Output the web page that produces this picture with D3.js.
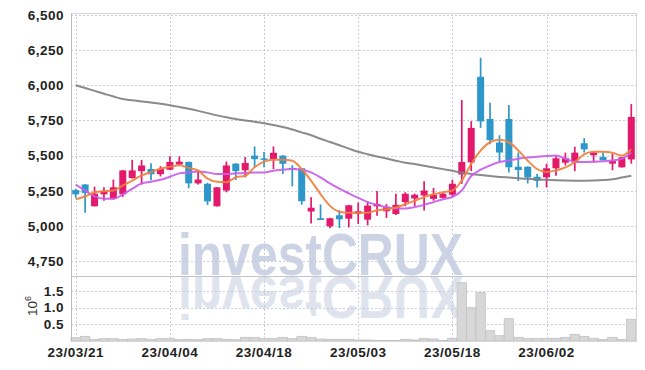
<!DOCTYPE html>
<html>
<head>
<meta charset="utf-8">
<script src="https://cdn.jsdelivr.net/npm/d3@7"></script>
<style>
    body { margin: 0; background: #fff; }
    svg { display: block; }
</style>
</head>
<body>
<svg></svg>
<script>
// trading sessions, one candle each
const dates = [
    '23/03/21', '23/03/22', '23/03/23', '23/03/24', '23/03/27', '23/03/28', '23/03/29', '23/03/30', '23/03/31',
    '23/04/03', '23/04/04', '23/04/05', '23/04/06', '23/04/07', '23/04/10', '23/04/11', '23/04/12', '23/04/13',
    '23/04/14', '23/04/17', '23/04/18', '23/04/19', '23/04/20', '23/04/21', '23/04/24', '23/04/25', '23/04/26',
    '23/04/27', '23/04/28', '23/05/02', '23/05/03', '23/05/04', '23/05/08', '23/05/09', '23/05/10', '23/05/11',
    '23/05/12', '23/05/15', '23/05/16', '23/05/17', '23/05/18', '23/05/19', '23/05/22', '23/05/23', '23/05/24',
    '23/05/25', '23/05/26', '23/05/30', '23/05/31', '23/06/01', '23/06/02', '23/06/05', '23/06/07', '23/06/08',
    '23/06/09', '23/06/12', '23/06/13', '23/06/14', '23/06/15', '23/06/16'
];

const opens = [5255, 5295, 5140, 5225, 5195, 5225, 5340, 5390, 5405, 5368, 5400, 5437, 5455, 5303, 5300,
    5140, 5252, 5443, 5396, 5500, 5480, 5475, 5500, 5413, 5410, 5103, 5055, 4998, 5076, 5052,
    5087, 5045, 5140, 5105, 5085, 5170, 5195, 5217, 5193, 5200, 5222, 5366, 5452, 6060, 5760,
    5593, 5760, 5421, 5421, 5350, 5346, 5410, 5450, 5452, 5588, 5503, 5490, 5443, 5417, 5473];
const highs = [5265, 5298, 5280, 5275, 5330, 5398, 5470, 5470, 5445, 5425, 5495, 5495, 5458, 5390, 5307,
    5278, 5458, 5446, 5490, 5565, 5525, 5565, 5502, 5432, 5412, 5205, 5153, 5058, 5112, 5150,
    5167, 5175, 5248, 5155, 5229, 5240, 5230, 5318, 5270, 5235, 5328, 5895, 5745, 6195, 5875,
    5645, 5860, 5522, 5424, 5371, 5443, 5500, 5521, 5563, 5624, 5524, 5522, 5515, 5490, 5866];
const lows = [5200, 5095, 5140, 5180, 5188, 5207, 5338, 5295, 5325, 5352, 5398, 5430, 5268, 5295, 5150,
    5138, 5240, 5327, 5346, 5417, 5418, 5405, 5370, 5282, 5152, 5018, 5042, 4985, 4986, 4990,
    5015, 5005, 5073, 5058, 5078, 5140, 5140, 5110, 5180, 5195, 5205, 5300, 5390, 5697, 5580,
    5460, 5380, 5320, 5302, 5274, 5274, 5357, 5431, 5390, 5522, 5451, 5465, 5396, 5415, 5443];
const closes = [5225, 5235, 5230, 5250, 5275, 5395, 5395, 5430, 5368, 5405, 5455, 5457, 5303, 5330, 5175,
    5275, 5430, 5390, 5448, 5475, 5475, 5520, 5442, 5402, 5176, 5130, 5043, 5055, 5048, 5147,
    5105, 5145, 5157, 5133, 5150, 5229, 5222, 5252, 5222, 5229, 5300, 5455, 5697, 5743, 5610,
    5522, 5417, 5398, 5345, 5321, 5410, 5481, 5481, 5521, 5545, 5522, 5467, 5461, 5488, 5775];

const volumes = [100000, 140000, 50000, 70000, 70000, 50000, 60000, 70000, 50000, 70000, 70000, 40000,
    50000, 40000, 70000, 70000, 50000, 40000, 110000, 110000, 70000, 70000, 110000, 70000, 140000,
    110000, 60000, 50000, 50000, 50000, 30000, 30000, 20000, 20000, 20000, 50000, 30000, 80000,
    60000, 20000, 80000, 1750000, 1000000, 1450000, 310000, 160000, 670000, 110000, 80000, 80000,
    80000, 80000, 110000, 200000, 140000, 80000, 50000, 110000, 50000, 650000];

// moving averages as drawn (they start before the first visible session)
const ma5 = [5190, 5210, 5240, 5247, 5252, 5288, 5323, 5360, 5383, 5407, 5420, 5431, 5412, 5395, 5336,
    5314, 5311, 5346, 5357, 5417, 5457, 5471, 5471, 5464, 5405, 5321, 5227, 5143, 5102, 5095,
    5095, 5095, 5112, 5119, 5131, 5155, 5180, 5205, 5225, 5240, 5252, 5323, 5441, 5536, 5595,
    5612, 5595, 5536, 5464, 5405, 5383, 5395, 5417, 5453, 5510, 5528, 5527, 5520, 5500, 5545];
const ma20 = [5295, 5252, 5210, 5193, 5193, 5224, 5264, 5303, 5314, 5328, 5350, 5374, 5381, 5388, 5381,
    5369, 5369, 5374, 5376, 5381, 5381, 5393, 5400, 5405, 5400, 5381, 5345, 5303, 5265, 5232,
    5200, 5170, 5150, 5135, 5125, 5125, 5135, 5150, 5170, 5190, 5207, 5252, 5355, 5400, 5430,
    5455, 5466, 5478, 5486, 5492, 5497, 5500, 5478, 5457, 5455, 5457, 5460, 5465, 5477, 5522];
const ma60 = [6000, 5980, 5960, 5940, 5920, 5902, 5893, 5885, 5877, 5868, 5858, 5846, 5833, 5818, 5802,
    5786, 5772, 5760, 5750, 5740, 5730, 5718, 5703, 5685, 5665, 5645, 5620, 5597, 5574, 5550,
    5527, 5510, 5494, 5479, 5464, 5450, 5440, 5428, 5416, 5404, 5392, 5380, 5370, 5362, 5355,
    5349, 5344, 5339, 5335, 5331, 5328, 5325, 5323, 5322, 5322, 5323, 5326, 5332, 5345, 5357];

const tickDates = ['23/03/21', '23/04/04', '23/04/18', '23/05/03', '23/05/18', '23/06/02'];
const priceTicks = [4750, 5000, 5250, 5500, 5750, 6000, 6250, 6500];
const volumeTicks = [500000, 1000000, 1500000];

const upColor = '#e3196b';
const downColor = '#2e97c9';
const labelFont = '"Liberation Sans Narrow", "Liberation Sans", sans-serif';

const chartWidth = 645;
const chartHeight = 370;
const plotLeft = 71;
const plotRight = 636;
const plotTop = 13;
const paneSplit = 276;
const plotBottom = 341;

const svg = d3.select('svg')
    .attr('width', chartWidth)
    .attr('height', chartHeight);

const x = d3.scaleBand()
    .domain(dates)
    .range([plotLeft, plotRight]);
const cx = d => x(d) + x.bandwidth() / 2;

const yPrice = d3.scaleLinear()
    .domain([4645, 6513])
    .range([paneSplit, plotTop]);

const yVol = d3.scaleLinear()
    .domain([0, 1.95e6])
    .range([plotBottom, paneSplit]);

const candles = dates.map((date, i) => ({
    date,
    open: opens[i],
    high: highs[i],
    low: lows[i],
    close: closes[i],
    volume: volumes[i]
}));

// watermark and its reflection
const defs = svg.append('defs');
const fade = defs.append('linearGradient')
    .attr('id', 'fade')
    .attr('gradientUnits', 'userSpaceOnUse')
    .attr('x1', 0).attr('y1', paneSplit)
    .attr('x2', 0).attr('y2', paneSplit + 42);
fade.append('stop').attr('offset', 0).attr('stop-color', '#dfe3ee');
fade.append('stop').attr('offset', 1).attr('stop-color', '#fbfbfd');

const mark = svg.append('g')
    .attr('class', 'watermark')
    .style('font-family', '"Liberation Sans", sans-serif')
    .style('font-weight', 'bold')
    .style('font-size', '60px');

mark.append('text')
    .attr('x', 178)
    .attr('y', paneSplit - 1)
    .attr('textLength', 285)
    .attr('lengthAdjust', 'spacingAndGlyphs')
    .style('fill', '#ccd3e5')
    .text('investCRUX');

mark.append('text')
    .attr('x', 178)
    .attr('y', paneSplit - 1)
    .attr('textLength', 285)
    .attr('lengthAdjust', 'spacingAndGlyphs')
    .attr('transform', `translate(0,${2 * paneSplit}) scale(1,-1)`)
    .style('fill', 'url(#fade)')
    .text('investCRUX');

// grid
const grid = svg.append('g')
    .attr('class', 'grid')
    .style('stroke', '#c6cbe0')
    .style('stroke-width', 1)
    .style('stroke-dasharray', '2,2');

grid.selectAll('.hp')
    .data(priceTicks)
    .enter()
    .append('line')
    .attr('x1', plotLeft)
    .attr('x2', plotRight)
    .attr('y1', d => Math.round(yPrice(d)) + 0.5)
    .attr('y2', d => Math.round(yPrice(d)) + 0.5);

grid.selectAll('.hv')
    .data(volumeTicks)
    .enter()
    .append('line')
    .attr('x1', plotLeft)
    .attr('x2', plotRight)
    .attr('y1', d => Math.round(yVol(d)) + 0.5)
    .attr('y2', d => Math.round(yVol(d)) + 0.5);

grid.selectAll('.vx')
    .data(tickDates)
    .enter()
    .append('line')
    .attr('x1', d => Math.round(cx(d)) + 0.5)
    .attr('x2', d => Math.round(cx(d)) + 0.5)
    .attr('y1', plotTop)
    .attr('y2', plotBottom);

// volume bars
svg.append('g')
    .attr('class', 'volume')
    .selectAll('rect')
    .data(candles)
    .enter()
    .append('rect')
    .attr('x', d => x(d.date))
    .attr('width', x.bandwidth())
    .attr('y', d => yVol(d.volume))
    .attr('height', d => plotBottom - yVol(d.volume))
    .style('fill', '#d7d7d7')
    .style('stroke', '#c2c2c2')
    .style('stroke-width', 0.8);

// candles
const candle = svg.append('g')
    .attr('class', 'candles')
    .selectAll('.candle')
    .data(candles)
    .enter()
    .append('g')
    .attr('class', 'candle')
    .style('fill', d => (d.close >= d.open ? upColor : downColor))
    .style('stroke', d => (d.close >= d.open ? upColor : downColor));

candle.append('line')
    .attr('x1', d => cx(d.date))
    .attr('x2', d => cx(d.date))
    .attr('y1', d => yPrice(d.high))
    .attr('y2', d => yPrice(d.low))
    .style('stroke-width', 1.7);

candle.append('rect')
    .attr('x', d => cx(d.date) - 3.5)
    .attr('width', 7)
    .attr('y', d => yPrice(Math.max(d.open, d.close)))
    .attr('height', d => Math.max(1.5, Math.abs(yPrice(d.open) - yPrice(d.close))))
    .style('stroke', 'none');

// moving averages
const maLine = values => d3.line()
    .x((v, i) => cx(dates[i]))
    .y(v => yPrice(v))
    .curve(d3.curveMonotoneX)(values);

const averages = [
    { values: ma60, color: '#808080' },
    { values: ma20, color: '#c95ce9' },
    { values: ma5, color: '#f0803e' }
];

svg.append('g')
    .attr('class', 'averages')
    .selectAll('path')
    .data(averages)
    .enter()
    .append('path')
    .attr('d', d => maLine(d.values))
    .style('fill', 'none')
    .style('stroke', d => d.color)
    .style('stroke-width', 2)
    .style('stroke-opacity', 0.92);

// frame
const frame = svg.append('g').attr('class', 'frame');
frame.append('rect')
    .attr('x', plotLeft + 0.5)
    .attr('y', plotTop + 0.5)
    .attr('width', plotRight - plotLeft)
    .attr('height', plotBottom - plotTop)
    .style('fill', 'none')
    .style('stroke', '#d6d6dc');
frame.append('line')
    .attr('x1', plotLeft)
    .attr('x2', plotRight)
    .attr('y1', paneSplit + 0.5)
    .attr('y2', paneSplit + 0.5)
    .style('stroke', '#c4c4c8');
frame.append('line')
    .attr('x1', plotLeft + 0.5)
    .attr('x2', plotLeft + 0.5)
    .attr('y1', plotTop)
    .attr('y2', plotBottom)
    .style('stroke', '#b9b9c0');

// axes
const styleAxis = g => {
    g.select('.domain').remove();
    g.selectAll('text')
        .attr('font-family', labelFont)
        .attr('font-weight', 'bold')
        .attr('font-size', 13.5)
        .style('letter-spacing', '0.5px')
        .style('fill', '#222');
};

svg.append('g')
    .attr('transform', `translate(${plotLeft - 1},0)`)
    .call(d3.axisLeft(yPrice)
        .tickValues(priceTicks)
        .tickFormat(d3.format(','))
        .tickSize(0)
        .tickPadding(6))
    .call(styleAxis);

svg.append('g')
    .attr('transform', `translate(${plotLeft - 1},0)`)
    .call(d3.axisLeft(yVol)
        .tickValues(volumeTicks)
        .tickFormat(d => (d / 1e6).toFixed(1))
        .tickSize(0)
        .tickPadding(6))
    .call(styleAxis);

svg.append('g')
    .attr('transform', `translate(0,${plotBottom})`)
    .call(d3.axisBottom(x)
        .tickValues(tickDates)
        .tickSize(0)
        .tickPadding(6))
    .call(styleAxis);

// volume unit label
const unit = svg.append('text')
    .attr('transform', 'translate(37,316) rotate(-90)')
    .attr('font-family', labelFont)
    .attr('font-size', 13.5)
    .style('fill', '#333');
unit.append('tspan').text('10');
unit.append('tspan')
    .attr('dy', -6)
    .attr('font-size', 9)
    .text('6');
</script>
</body>
</html>
